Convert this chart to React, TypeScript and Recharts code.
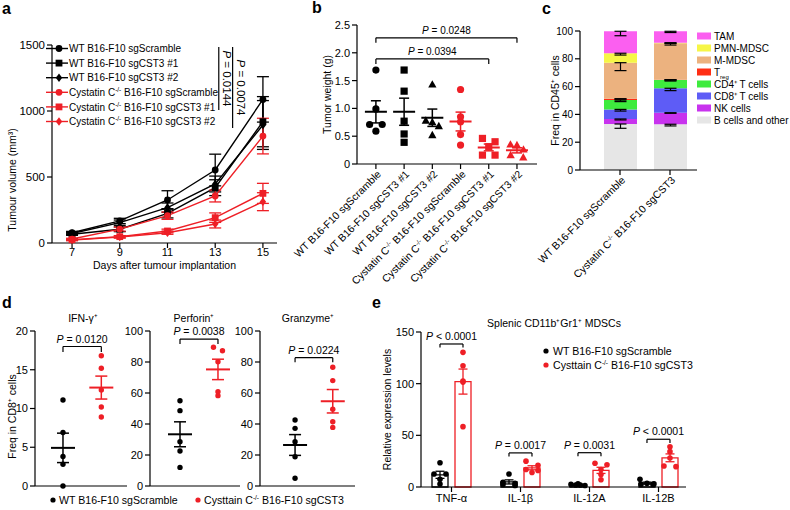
import React from "react";
import {
  LineChart,
  Line,
  ScatterChart,
  Scatter,
  BarChart,
  Bar,
  ComposedChart,
  XAxis,
  YAxis,
  ErrorBar,
  ReferenceLine,
} from "recharts";

const FONT = "Arial, 'Liberation Sans', Helvetica, sans-serif";
const RED = "#ee1f26";
const BLACK = "#000000";

// a: tumour growth curves
const tumourDays = [7, 9, 11, 13, 15];
const tumourNames = [
  "WT B16-F10 sgScramble",
  "WT B16-F10 sgCST3 #1",
  "WT B16-F10 sgCST3 #2",
  "Cystatin C-/- B16-F10 sgScramble",
  "Cystatin C-/- B16-F10 sgCST3 #1",
  "Cystatin C-/- B16-F10 sgCST3 #2",
];
const tumourMeans = [
  [78, 167, 326, 553, 1088],
  [66, 104, 225, 419, 919],
  [72, 154, 268, 447, 894],
  [30, 105, 207, 356, 810],
  [25, 48, 91, 192, 376],
  [22, 45, 78, 144, 313],
];
const tumourSems = [
  [10, 20, 70, 120, 172],
  [8, 18, 35, 60, 190],
  [8, 20, 35, 60, 185],
  [6, 15, 28, 45, 135],
  [5, 8, 14, 36, 76],
  [5, 8, 12, 30, 68],
];
const tumourTicks = [0, 500, 1000, 1500];
const tumourPValues = ["= 0.0144", "= 0.0074"];

// b: tumour weight
const weightValues = [
  [1.69, 0.99, 0.71, 0.71, 0.59],
  [1.69, 1.31, 0.77, 0.54, 0.39],
  [1.43, 0.78, 0.75, 0.68, 0.52],
  [1.34, 0.85, 0.76, 0.53, 0.34],
  [0.46, 0.4, 0.31, 0.16, 0.16],
  [0.35, 0.34, 0.26, 0.16, 0.12],
];
const weightTicks = [0, 0.5, 1, 1.5, 2, 2.5];
const weightPValues = ["= 0.0394", "= 0.0248"];

// c: immune infiltrate
const immuneGroups = ["WT B16-F10 sgScramble", "Cystatin C-/- B16-F10 sgCST3"];
const cellTypes = [
  "B cells and other",
  "NK cells",
  "CD8⁺ T cells",
  "CD4⁺ T cells",
  "Treg",
  "M-MDSC",
  "PMN-MDSC",
  "TAM",
];
const wtFreq = [33.1, 3.6, 6.9, 6.7, 1.0, 25.9, 6.8, 15.8];
const koFreq = [32.9, 8.3, 17.6, 5.9, 0.3, 26.2, 0.4, 8.2];
const wtFreqSem = [3.1, 0.7, 1.2, 1.1, 0.3, 5.7, 1.3, 3.2];
const koFreqSem = [1.2, 0.4, 1.7, 0.7, 0.2, 1.3, 0.5, 0.9];
const freqTicks = [0, 20, 40, 60, 80, 100];
const cellColors = ["#e6e6e6", "#c833ee", "#5e5cf6", "#3eeb3e", "#ff2e14", "#ecb27f", "#f6f646", "#fb5ff0"];

// d: CD8 effector markers
const cd8Titles = ["IFN-γ⁺", "Perforin⁺", "Granzyme⁺"];
const cd8Wt = [
  [11.1, 6.9, 3.8, 2.8, 0],
  [55, 48.6, 28.6, 22.6, 12],
  [42.6, 37.2, 28.6, 18.9, 5],
];
const cd8Ko = [
  [16.8, 15.2, 12.4, 10.2, 8.9],
  [89.5, 87.3, 80.2, 60.8, 58.3],
  [76.6, 68, 49.5, 41.5, 37.8],
];
const cd8Ticks = [
  [0, 5, 10, 15, 20],
  [0, 20, 40, 60, 80, 100],
  [0, 20, 40, 60, 80, 100],
];
const cd8PValues = ["= 0.0120", " = 0.0038", "= 0.0224"];

// e: splenic MDSC cytokines
const cytokines = ["TNF-α", "IL-1β", "IL-12A", "IL-12B"];
const mdscWt = [
  [23.5, 12.6, 12.6, 7.4, 2.9],
  [12.6, 4.5, 3.5, 2.5, 1.5],
  [3, 2.5, 2, 2, 1.5],
  [7.4, 3.5, 3, 2.5, 2.5],
];
const mdscKo = [
  [130.3, 117.4, 102.5, 101.5, 58.4],
  [25, 21, 17, 16, 14],
  [23, 21.5, 17, 12, 7],
  [39, 34.2, 28, 20.3, 19.7],
];
const mdscTicks = [0, 50, 100, 150];
const mdscPValues = ["< 0.0001", "= 0.0017", "= 0.0031", "< 0.0001"];
const groupLegend = ["WT B16-F10 sgScramble", "Cysttain C-/- B16-F10 sgCST3"];

const tumourStyle = [
  { color: BLACK, marker: "circle" },
  { color: BLACK, marker: "square" },
  { color: BLACK, marker: "diamond" },
  { color: RED, marker: "circle" },
  { color: RED, marker: "square" },
  { color: RED, marker: "diamond" },
];
const weightStyle = [
  { color: BLACK, marker: "circle" },
  { color: BLACK, marker: "square" },
  { color: BLACK, marker: "triangle" },
  { color: RED, marker: "circle" },
  { color: RED, marker: "square" },
  { color: RED, marker: "triangle" },
];

const mean = (a: number[]) => a.reduce((s, v) => s + v, 0) / a.length;
const sem = (a: number[]) => {
  const m = mean(a);
  return Math.sqrt(a.reduce((s, v) => s + (v - m) ** 2, 0) / (a.length - 1) / a.length);
};

// GraphPad-like spreading: points that fall in the same row are put side by side
function spread(values: number[], yPx: number, diam: number, stepMax: number, maxWidth: number) {
  const rows = new Map<number, number[]>();
  values.forEach((v, i) => {
    const r = Math.round((v * yPx) / diam);
    rows.set(r, [...(rows.get(r) || []), i]);
  });
  const out = values.map(() => 0);
  rows.forEach((idx) => {
    const n = idx.length;
    if (n < 2) return;
    const step = Math.min(stepMax, maxWidth / (n - 1));
    idx.forEach((i, j) => {
      out[i] = (j - (n - 1) / 2) * step;
    });
  });
  return out;
}

const axisStroke = { stroke: "#000", strokeWidth: 1.2 };
const tickStyle = (size = 11) => ({ fontSize: size, fill: "#000", fontFamily: FONT });

function Marker({ kind, cx, cy, color, size }: any) {
  const s = size;
  if (kind === "square") return <rect x={cx - s} y={cy - s} width={2 * s} height={2 * s} fill={color} />;
  if (kind === "triangle")
    return <path d={`M${cx},${cy - s * 1.2}L${cx + s * 1.15},${cy + s * 0.85}L${cx - s * 1.15},${cy + s * 0.85}Z`} fill={color} />;
  if (kind === "diamond")
    return <path d={`M${cx},${cy - s * 1.25}L${cx + s * 0.95},${cy}L${cx},${cy + s * 1.25}L${cx - s * 0.95},${cy}Z`} fill={color} />;
  return <circle cx={cx} cy={cy} r={s} fill={color} />;
}

function SvgLabel({ text, supSize = 6.5 }: { text: string; supSize?: number }) {
  if (text === "Treg")
    return (
      <>
        T<tspan dy={3} fontSize={supSize}>reg</tspan>
      </>
    );
  const parts = text.split("-/-");
  if (parts.length === 1) return <>{text}</>;
  return (
    <>
      {parts[0]}
      <tspan dy={-4} fontSize={supSize}>-/-</tspan>
      <tspan dy={4}>{parts[1]}</tspan>
    </>
  );
}

function SlantTick(props: any) {
  const { x, y, payload, labels, fontSize = 10.5 } = props;
  const label = labels ? labels[payload.value] : payload.value;
  if (label === undefined) return null;
  return (
    <g transform={`translate(${x + 3},${y + 1})`}>
      <text x={0} y={0} dy={4} transform="rotate(-45)" textAnchor="end" fontSize={fontSize} fontFamily={FONT} fill="#000">
        <SvgLabel text={label} />
      </text>
    </g>
  );
}

function YTitle(props: any) {
  const { viewBox, text, ox = 10, dy = 0, fontSize = 10.5 } = props;
  if (!viewBox) return null;
  const x = viewBox.x + ox;
  const y = viewBox.y + viewBox.height / 2 + dy;
  return (
    <text x={x} y={y} transform={`rotate(-90 ${x} ${y})`} textAnchor="middle" dominantBaseline="central" fontSize={fontSize} fontFamily={FONT} fill="#000">
      {text}
    </text>
  );
}

function XTitle(props: any) {
  const { viewBox, text, dy = 20, fontSize = 10.5 } = props;
  if (!viewBox) return null;
  return (
    <text x={viewBox.x + viewBox.width / 2} y={viewBox.y + dy} textAnchor="middle" fontSize={fontSize} fontFamily={FONT} fill="#000">
      {text}
    </text>
  );
}

function PLabel(props: any) {
  const { viewBox, text, vertical = false, gap = 4, fontSize = 10.5 } = props;
  if (!viewBox) return null;
  if (vertical) {
    const x = viewBox.x + gap;
    const y = viewBox.y + viewBox.height / 2;
    return (
      <text x={x} y={y} transform={`rotate(90 ${x} ${y})`} textAnchor="middle" fontSize={fontSize} fontFamily={FONT} fill="#000">
        <tspan fontStyle="italic">P</tspan> {text}
      </text>
    );
  }
  return (
    <text x={viewBox.x + viewBox.width / 2} y={viewBox.y - gap} textAnchor="middle" fontSize={fontSize} fontFamily={FONT} fill="#000">
      <tspan fontStyle="italic">P</tspan> {text}
    </text>
  );
}

function bracket(key: string, x1: number, x2: number, y: number, drop: number, p: string, xAxisId?: string, fontSize = 10.5) {
  const common: any = { stroke: "#000", strokeWidth: 1.2, ifOverflow: "visible" };
  if (xAxisId) common.xAxisId = xAxisId;
  return [
    <ReferenceLine key={key + "h"} {...common} segment={[{ x: x1, y }, { x: x2, y }]} label={<PLabel text={p} fontSize={fontSize} />} />,
    <ReferenceLine key={key + "l"} {...common} segment={[{ x: x1, y }, { x: x1, y: y - drop }]} />,
    <ReferenceLine key={key + "r"} {...common} segment={[{ x: x2, y }, { x: x2, y: y - drop }]} />,
  ];
}

function TumourGrowth() {
  const rows = tumourDays.map((d, i) => {
    const r: any = { day: d };
    tumourMeans.forEach((m, k) => {
      r[`m${k}`] = m[i];
      r[`e${k}`] = tumourSems[k][i];
    });
    return r;
  });
  return (
    <LineChart width={290} height={275} data={rows} margin={{ top: 45, right: 13, left: 0, bottom: 0 }}>
      <XAxis
        type="number"
        dataKey="day"
        domain={[6.16, 15.59]}
        ticks={tumourDays}
        allowDataOverflow
        height={32}
        tickSize={5}
        tickMargin={0}
        tick={tickStyle(11)}
        tickLine={axisStroke}
        axisLine={axisStroke}
        label={<XTitle text="Days after tumour implantation" dy={26} />}
      />
      <YAxis
        type="number"
        domain={[0, 1500]}
        ticks={tumourTicks}
        width={52}
        tickSize={5}
        tickMargin={2}
        tick={tickStyle(11.5)}
        tickLine={axisStroke}
        axisLine={axisStroke}
        label={<YTitle text="Tumour volume (mm³)" ox={12} dy={36} />}
      />
      <ReferenceLine
        stroke="#000"
        strokeWidth={1.2}
        ifOverflow="visible"
        segment={[{ x: 13.15, y: 1485 }, { x: 13.15, y: 1008 }]}
        label={<PLabel text={tumourPValues[0]} vertical gap={4.5} fontSize={11.5} />}
      />
      <ReferenceLine
        stroke="#000"
        strokeWidth={1.2}
        ifOverflow="visible"
        segment={[{ x: 13.73, y: 1485 }, { x: 13.73, y: 871 }]}
        label={<PLabel text={tumourPValues[1]} vertical gap={4.5} fontSize={11.5} />}
      />
      {tumourMeans.map((_, k) => (
        <Line
          key={k}
          dataKey={`m${k}`}
          stroke={tumourStyle[k].color}
          strokeWidth={1.4}
          isAnimationActive={false}
          activeDot={false}
          dot={(p: any) => (
            <Marker key={`d${k}-${p.index}`} kind={tumourStyle[k].marker} cx={p.cx} cy={p.cy} color={tumourStyle[k].color} size={3.4} />
          )}
        >
          <ErrorBar dataKey={`e${k}`} direction="y" width={6} stroke={tumourStyle[k].color} strokeWidth={1.3} />
        </Line>
      ))}
    </LineChart>
  );
}

function TumourWeight() {
  const xUnit = 28.2;
  const yUnit = 139 / 2.5;
  return (
    <ScatterChart width={275} height={275} margin={{ top: 25, right: 8, left: 0, bottom: 0 }}>
      <XAxis
        type="number"
        dataKey="x"
        domain={[-0.67, 5.71]}
        ticks={[0, 1, 2, 3, 4, 5]}
        interval={0}
        allowDataOverflow
        height={111}
        tickSize={5}
        tickMargin={2}
        tick={<SlantTick labels={tumourNames} />}
        tickLine={axisStroke}
        axisLine={axisStroke}
      />
      <YAxis
        type="number"
        dataKey="y"
        domain={[0, 2.5]}
        ticks={weightTicks}
        width={87}
        tickSize={5}
        tickMargin={2}
        tickFormatter={(v: number) => (v === 0 ? "0" : v.toFixed(1))}
        tick={tickStyle(11)}
        tickLine={axisStroke}
        axisLine={axisStroke}
        label={<YTitle text="Tumor weight (g)" ox={57} />}
      />
      {bracket("b1", 0, 4, 1.89, 0.09, weightPValues[0], undefined, 10)}
      {bracket("b2", 0, 5, 2.27, 0.09, weightPValues[1], undefined, 10)}
      {weightValues.map((vals, g) => {
        const off = spread(vals, yUnit, 8, 12.6, 13);
        const pts = vals.map((v, i) => ({ x: g + off[i] / xUnit, y: v }));
        const st = weightStyle[g];
        return (
          <Scatter
            key={`p${g}`}
            data={pts}
            isAnimationActive={false}
            shape={(p: any) => <Marker kind={st.marker} cx={p.cx} cy={p.cy} color={st.color} size={3.6} />}
          />
        );
      })}
      {weightValues.map((vals, g) => {
        const st = weightStyle[g];
        return (
          <Scatter
            key={`m${g}`}
            data={[{ x: g, y: mean(vals), err: sem(vals) }]}
            isAnimationActive={false}
            shape={(p: any) => <line x1={p.cx - 11} x2={p.cx + 11} y1={p.cy} y2={p.cy} stroke={st.color} strokeWidth={2} />}
          >
            <ErrorBar dataKey="err" direction="y" width={5} stroke={st.color} strokeWidth={1.5} />
          </Scatter>
        );
      })}
    </ScatterChart>
  );
}

function ImmuneStack() {
  const freqs = [wtFreq, koFreq];
  const sems = [wtFreqSem, koFreqSem];
  const rows = immuneGroups.map((g, gi) => {
    const r: any = { name: g };
    cellTypes.forEach((_, ci) => {
      r[`v${ci}`] = freqs[gi][ci];
      r[`e${ci}`] = [sems[gi][ci], 0];
    });
    return r;
  });
  return (
    <BarChart width={260} height={275} data={rows} margin={{ top: 31, right: 93, left: 0, bottom: 0 }}>
      <XAxis
        dataKey="name"
        padding={{ left: 15, right: 2 }}
        height={105}
        interval={0}
        tickSize={5}
        tickMargin={2}
        tick={<SlantTick />}
        tickLine={axisStroke}
        axisLine={axisStroke}
      />
      <YAxis
        type="number"
        domain={[0, 100]}
        ticks={freqTicks}
        width={50}
        tickSize={5}
        tickMargin={2}
        tick={tickStyle(10)}
        tickLine={axisStroke}
        axisLine={axisStroke}
        label={<YTitle text="Freq in CD45⁺ cells" ox={25} />}
      />
      {cellTypes.map((c, ci) => (
        <Bar key={c} dataKey={`v${ci}`} stackId="s" fill={cellColors[ci]} barSize={33} isAnimationActive={false}>
          <ErrorBar dataKey={`e${ci}`} direction="y" width={6} stroke="#000" strokeWidth={1.2} />
        </Bar>
      ))}
    </BarChart>
  );
}

const cd8Layout = [
  { left: 0, width: 130, right: 3, domain: [-0.73, 1.67], bracketY: 18, drop: 0.7 },
  { left: 115, width: 130, right: 5, domain: [-0.79, 1.58], bracketY: 94.8, drop: 3.2 },
  { left: 225, width: 135, right: 5, domain: [-0.93, 1.59], bracketY: 82.8, drop: 3 },
];

function Cd8Panel({ idx }: { idx: number }) {
  const lay = cd8Layout[idx];
  const ticks = cd8Ticks[idx];
  const max = ticks[ticks.length - 1];
  const plotW = lay.width - 35 - lay.right;
  const xUnit = plotW / (lay.domain[1] - lay.domain[0]);
  const yUnit = 155 / max;
  const groups = [
    { vals: cd8Wt[idx], color: BLACK, x: 0 },
    { vals: cd8Ko[idx], color: RED, x: 1 },
  ];
  return (
    <ScatterChart width={lay.width} height={206} margin={{ top: 41, right: lay.right, left: 0, bottom: 0 }}>
      <XAxis
        type="number"
        dataKey="x"
        domain={lay.domain}
        allowDataOverflow
        height={10}
        tick={false}
        tickLine={false}
        axisLine={axisStroke}
      />
      <YAxis
        type="number"
        dataKey="y"
        domain={[0, max]}
        ticks={ticks}
        width={35}
        tickSize={5}
        tickMargin={2}
        tick={tickStyle(11)}
        tickLine={axisStroke}
        axisLine={axisStroke}
        label={idx === 0 ? <YTitle text="Freq in CD8⁺ cells" ox={12} dy={8} /> : undefined}
      />
      {bracket(`d${idx}`, 0, 1, lay.bracketY, lay.drop, cd8PValues[idx])}
      {groups.map((g, gi) => {
        const off = spread(g.vals, yUnit, 5.5, 9, 10);
        return (
          <Scatter
            key={`p${gi}`}
            data={g.vals.map((v, i) => ({ x: g.x + off[i] / xUnit, y: v }))}
            isAnimationActive={false}
            shape={(p: any) => <circle cx={p.cx} cy={p.cy} r={2.7} fill={g.color} />}
          />
        );
      })}
      {groups.map((g, gi) => (
        <Scatter
          key={`m${gi}`}
          data={[{ x: g.x, y: mean(g.vals), err: sem(g.vals) }]}
          isAnimationActive={false}
          shape={(p: any) => <line x1={p.cx - 12} x2={p.cx + 12} y1={p.cy} y2={p.cy} stroke={g.color} strokeWidth={2} />}
        >
          <ErrorBar dataKey="err" direction="y" width={6} stroke={g.color} strokeWidth={1.5} />
        </Scatter>
      ))}
    </ScatterChart>
  );
}

function MdscBars() {
  const unit = 69;
  const barShift = 11.5 / unit;
  const yUnit = 155 / 150;
  const rows = cytokines.map((c, i) => ({
    name: c,
    wt: mean(mdscWt[i]),
    wtErr: sem(mdscWt[i]),
    ko: mean(mdscKo[i]),
    koErr: sem(mdscKo[i]),
  }));
  const pointsFor = (sets: number[][], shift: number) =>
    sets.flatMap((vals, i) => {
      const off = spread(vals, yUnit, 6, 12, 14);
      return vals.map((v, j) => ({ x: i + shift + off[j] / unit, y: v }));
    });
  const brackY = [138.4, 33, 33.2, 46.2];
  return (
    <ComposedChart width={310} height={220} data={rows} margin={{ top: 42, right: 4, left: 0, bottom: 0 }} barGap={7}>
      <XAxis
        xAxisId="cat"
        dataKey="name"
        padding={{ left: -4, right: -7 }}
        height={23}
        interval={0}
        tickSize={5}
        tickMargin={2}
        tick={tickStyle(11)}
        tickLine={axisStroke}
        axisLine={axisStroke}
      />
      <XAxis xAxisId="num" type="number" dataKey="x" domain={[-0.442, 3.399]} allowDataOverflow hide />
      <YAxis
        type="number"
        domain={[0, 150]}
        ticks={mdscTicks}
        width={41}
        tickSize={5}
        tickMargin={2}
        tick={tickStyle(11)}
        tickLine={axisStroke}
        axisLine={axisStroke}
        label={<YTitle text="Relative expression levels" ox={7} />}
      />
      <Bar xAxisId="cat" dataKey="wt" fill="#fff" stroke={BLACK} strokeWidth={1.3} barSize={16} isAnimationActive={false}>
        <ErrorBar dataKey="wtErr" direction="y" width={4.5} stroke={BLACK} strokeWidth={1.3} />
      </Bar>
      <Bar xAxisId="cat" dataKey="ko" fill="#fff" stroke={RED} strokeWidth={1.3} barSize={16} isAnimationActive={false}>
        <ErrorBar dataKey="koErr" direction="y" width={4.5} stroke={RED} strokeWidth={1.3} />
      </Bar>
      <Scatter
        xAxisId="num"
        dataKey="y"
        data={pointsFor(mdscWt, -barShift)}
        isAnimationActive={false}
        shape={(p: any) => <circle cx={p.cx} cy={p.cy} r={2.8} fill={BLACK} />}
      />
      <Scatter
        xAxisId="num"
        dataKey="y"
        data={pointsFor(mdscKo, barShift)}
        isAnimationActive={false}
        shape={(p: any) => <circle cx={p.cx} cy={p.cy} r={2.8} fill={RED} />}
      />
      {cytokines.flatMap((c, i) => bracket(`e${i}`, i - barShift, i + barShift, brackY[i], 3.5, mdscPValues[i], "num"))}
    </ComposedChart>
  );
}

function Overlay() {
  const txt = { fontFamily: FONT, fill: "#000" };
  const legendC = [...cellTypes.keys()].reverse();
  return (
    <svg width={790} height={510} style={{ position: "absolute", left: 0, top: 0, pointerEvents: "none" }}>
      {[
        ["a", 2, 14],
        ["b", 312, 13],
        ["c", 542, 14],
        ["d", 2, 308],
        ["e", 372, 308],
      ].map(([l, x, y]) => (
        <text key={l as string} x={x as number} y={y as number} fontSize={16} fontWeight="bold" {...txt}>
          {l}
        </text>
      ))}
      {tumourNames.map((n, k) => {
        const y = 48.5 + k * 14.6;
        const st = tumourStyle[k];
        return (
          <g key={n}>
            <line x1={46} x2={68} y1={y} y2={y} stroke={st.color} strokeWidth={1.4} />
            <Marker kind={st.marker} cx={59} cy={y} color={st.color} size={3.4} />
            <text x={69} y={y + 3.6} fontSize={10} {...txt}>
              <SvgLabel text={n} supSize={6.5} />
            </text>
          </g>
        );
      })}
      {legendC.map((ci, r) => {
        const y = 36 + r * 12;
        return (
          <g key={ci}>
            <rect x={697} y={y - 3.5} width={14} height={7} fill={cellColors[ci]} />
            <text x={714} y={y + 3.5} fontSize={10} {...txt}>
              <SvgLabel text={cellTypes[ci]} supSize={6} />
            </text>
          </g>
        );
      })}
      {cd8Titles.map((t, i) => (
        <text key={t} x={[83, 194, 308][i]} y={322} fontSize={10.5} textAnchor="middle" {...txt}>
          {t}
        </text>
      ))}
      {groupLegend.map((n, i) => (
        <g key={n}>
          <circle cx={[53, 198][i]} cy={500} r={2.6} fill={i ? RED : BLACK} />
          <text x={[59, 204][i]} y={503.8} fontSize={10.6} {...txt}>
            <SvgLabel text={n} />
          </text>
        </g>
      ))}
      <text x={554} y={327} fontSize={10.5} textAnchor="middle" {...txt}>
        Splenic CD11b⁺Gr1⁺ MDSCs
      </text>
      {groupLegend.map((n, i) => (
        <g key={`e${n}`}>
          <circle cx={546} cy={351 + i * 14} r={2.6} fill={i ? RED : BLACK} />
          <text x={553} y={354.8 + i * 14} fontSize={10.6} {...txt}>
            <SvgLabel text={n} />
          </text>
        </g>
      ))}
    </svg>
  );
}

export default function App() {
  return (
    <div style={{ position: "absolute", left: 0, top: 0, width: 790, height: 510, background: "#fff", fontFamily: FONT, overflow: "hidden" }}>
      <style>{`.recharts-surface{overflow:visible}`}</style>
      <div style={{ position: "absolute", left: 0, top: 0 }}>
        <TumourGrowth />
      </div>
      <div style={{ position: "absolute", left: 270, top: 0 }}>
        <TumourWeight />
      </div>
      <div style={{ position: "absolute", left: 530, top: 0 }}>
        <ImmuneStack />
      </div>
      {cd8Layout.map((l, i) => (
        <div key={i} style={{ position: "absolute", left: l.left, top: 290 }}>
          <Cd8Panel idx={i} />
        </div>
      ))}
      <div style={{ position: "absolute", left: 380, top: 290 }}>
        <MdscBars />
      </div>
      <Overlay />
    </div>
  );
}
